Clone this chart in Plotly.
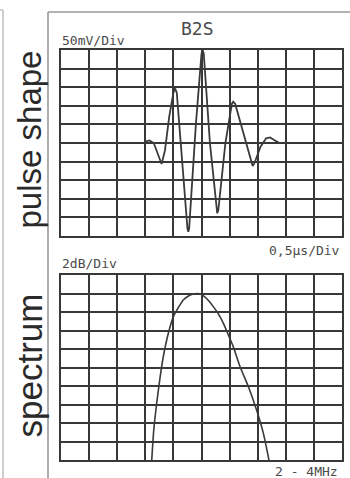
import plotly.graph_objects as go

W, H = 350, 478

# ---- data (in grid divisions, 0..10) ----
pulse_x = [2.99, 3.15, 3.30, 3.45, 3.58, 3.70, 3.85, 4.00, 4.06, 4.12, 4.30, 4.50,
           4.53, 4.56, 4.80, 5.00, 5.04, 5.08, 5.30, 5.53, 5.56, 5.60, 5.85, 6.08,
           6.13, 6.20, 6.50, 6.78, 6.82, 6.88, 7.10, 7.30, 7.44, 7.60, 7.79]
pulse_y = [5.07, 5.14, 5.00, 4.40, 3.87, 4.60, 6.40, 7.70, 7.94, 7.70, 4.00, 0.40,
           0.23, 0.40, 6.00, 9.80, 10.0, 9.80, 5.00, 1.40, 1.22, 1.40, 5.00, 7.10,
           7.22, 7.10, 5.50, 3.90, 3.76, 3.90, 4.80, 5.25, 5.30, 5.15, 4.98]

spec_x = [3.23, 3.30, 3.40, 3.52, 3.64, 3.82, 4.00, 4.20, 4.35, 4.55, 4.71, 4.85,
          5.00, 5.20, 5.42, 5.60, 5.78, 6.00, 6.13, 6.37, 6.67, 6.96, 7.20, 7.40]
spec_y = [0.0, 1.6, 3.0, 4.4, 5.58, 6.85, 7.75, 8.30, 8.65, 8.88, 8.97, 9.0,
          8.95, 8.70, 8.29, 7.90, 7.39, 6.60, 6.13, 5.05, 3.96, 2.70, 1.45, 0.0]

title = "B2S"
top_scale = "50mV/Div"
time_scale = "0,5µs/Div"
bot_scale = "2dB/Div"
freq_range = "2 - 4MHz"
top_label = "pulse shape"
bot_label = "spectrum"


def px(x):
    return x / W


def py(y):
    return 1 - y / H


fig = go.Figure()
trace_col = "#3a3a3a"
fig.add_trace(go.Scatter(x=pulse_x, y=pulse_y, mode="lines", xaxis="x", yaxis="y",
                         line=dict(color=trace_col, width=1.8), showlegend=False))
fig.add_trace(go.Scatter(x=spec_x, y=spec_y, mode="lines", xaxis="x2", yaxis="y2",
                         line=dict(color=trace_col, width=1.6, shape="spline", smoothing=0.6),
                         showlegend=False))

grid_col = "#383838"
ax_common = dict(range=[0, 10], dtick=1, tick0=0, showgrid=True, gridcolor=grid_col,
                 gridwidth=1.6, showline=True, linecolor=grid_col, linewidth=1.8,
                 mirror=True, zeroline=False, showticklabels=False, ticks="",
                 fixedrange=True)

fig.update_layout(
    width=W, height=H, margin=dict(l=0, r=0, t=0, b=0),
    paper_bgcolor="white", plot_bgcolor="white",
    xaxis=dict(domain=[px(61), px(342)], anchor="y", **ax_common),
    yaxis=dict(domain=[py(236), py(50)], anchor="x", **ax_common),
    xaxis2=dict(domain=[px(61), px(342)], anchor="y2", **ax_common),
    yaxis2=dict(domain=[py(460), py(275)], anchor="x2", **ax_common),
)

frame_col = "#999999"
shapes = [
    dict(type="line", xref="paper", yref="paper", x0=px(48), x1=px(350), y0=py(12), y1=py(12),
         line=dict(color=frame_col, width=1.6)),
    dict(type="line", xref="paper", yref="paper", x0=px(48), x1=px(48), y0=py(12), y1=py(478),
         line=dict(color=frame_col, width=1.6)),
    dict(type="line", xref="paper", yref="paper", x0=px(3), x1=px(3), y0=py(10), y1=py(478),
         line=dict(color="#bbbbbb", width=1.4)),
    dict(type="line", xref="paper", yref="paper", x0=px(0), x1=px(3), y0=py(10), y1=py(10),
         line=dict(color="#bbbbbb", width=1.4)),
]
fig.update_layout(shapes=shapes)

mono = "DejaVu Sans Mono"
txt_col = "#4a4a4a"
ann = [
    dict(text=title, x=px(197), y=py(28), xanchor="center", yanchor="middle",
         font=dict(family=mono, size=18, color=txt_col)),
    dict(text=top_scale, x=px(60), y=py(40), xanchor="left", yanchor="middle",
         font=dict(family=mono, size=13, color=txt_col)),
    dict(text=time_scale, x=px(342), y=py(251), xanchor="right", yanchor="middle",
         font=dict(family=mono, size=13, color=txt_col)),
    dict(text=bot_scale, x=px(60), y=py(263), xanchor="left", yanchor="middle",
         font=dict(family=mono, size=13, color=txt_col)),
    dict(text=freq_range, x=px(340), y=py(471), xanchor="right", yanchor="middle",
         font=dict(family=mono, size=13, color=txt_col)),
    dict(text=top_label, x=px(29), y=py(139.5), xanchor="center", yanchor="middle",
         textangle=-90, font=dict(family="Liberation Sans", size=33, color="#2a2a2a")),
    dict(text=bot_label, x=px(29), y=py(365.5), xanchor="center", yanchor="middle",
         textangle=-90, font=dict(family="Liberation Sans", size=35, color="#2a2a2a")),
]
for a in ann:
    a.update(xref="paper", yref="paper", showarrow=False)
fig.update_layout(annotations=ann)

fig.write_html("out.html", config={"displayModeBar": False})
